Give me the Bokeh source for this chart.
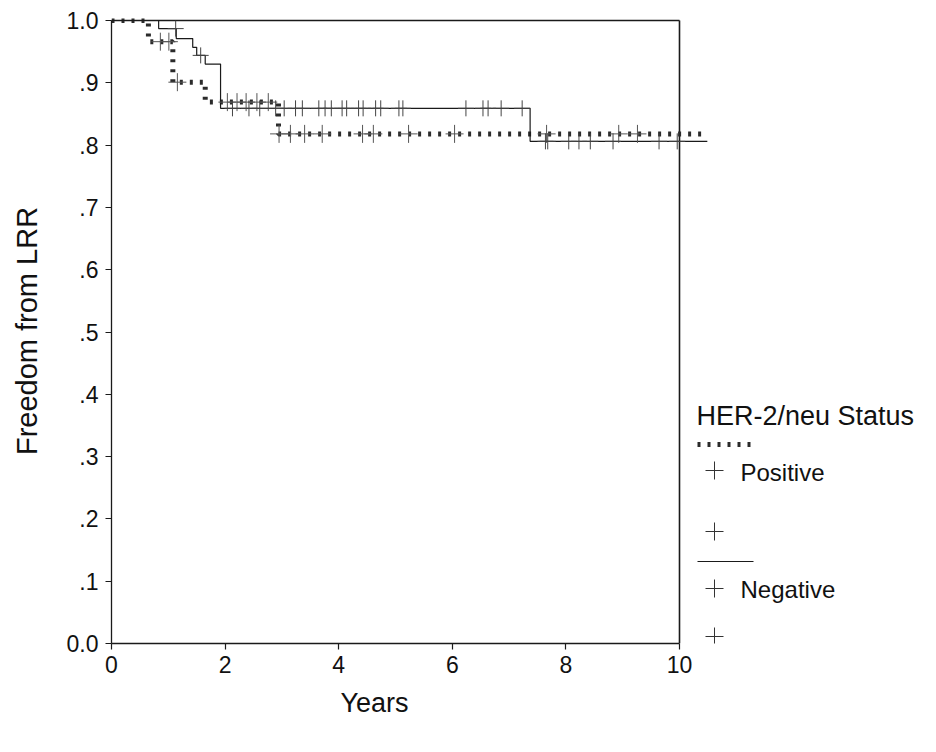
import numpy as np
from bokeh.plotting import figure
from bokeh.models import Range1d, FixedTicker, Label, Title
from bokeh.embed import file_html
from bokeh.resources import INLINE

# ---------------- data ----------------
pos_time = [0.0, 0.65, 1.08, 1.65, 2.94]
pos_surv = [1.0, 0.966, 0.901, 0.869, 0.818]
pos_end = 10.42
pos_censor = [0.86, 1.01, 1.16, 2.04, 2.21, 2.37, 2.56, 2.76, 2.95, 3.15,
              3.40, 3.71, 4.42, 4.61, 5.23, 6.04, 7.66, 8.93, 9.26]

neg_time = [0.0, 0.83, 1.14, 1.43, 1.50, 1.65, 1.92, 7.37]
neg_surv = [1.0, 0.987, 0.971, 0.957, 0.944, 0.930, 0.859, 0.806]
neg_end = 10.49
neg_censor = [1.13, 1.57, 2.13, 2.42, 2.61, 2.89, 3.04, 3.24, 3.36, 3.65,
              3.76, 3.87, 4.06, 4.14, 4.35, 4.43, 4.65, 4.74, 5.06, 5.13,
              6.24, 6.54, 6.63, 6.86, 7.23, 7.64, 7.68, 8.05, 8.23, 8.43,
              8.83, 9.64, 9.96]

x_ticks = [0, 2, 4, 6, 8, 10]
x_tick_labels = ["0", "2", "4", "6", "8", "10"]
y_ticks = [0.0, 0.1, 0.2, 0.3, 0.4, 0.5, 0.6, 0.7, 0.8, 0.9, 1.0]
y_tick_labels = ["0.0", ".1", ".2", ".3", ".4", ".5", ".6", ".7", ".8", ".9", "1.0"]

legend_title = "HER-2/neu Status"
legend_labels = ["Positive", "Negative"]
x_title = "Years"
y_title = "Freedom from LRR"

# ---------------- layout ----------------
FONT = "Liberation Sans"
W, H = 920, 736
PX_PER_X = 56.8      # pixels per year
PX_PER_Y = 623.0     # pixels per unit of survival
LEFT_PX, TOP_PX, ZERO_PX = 111, 18, 643


def dx(px):
    return (px - LEFT_PX) / PX_PER_X


def dy(py):
    return (ZERO_PX - py) / PX_PER_Y


def censor_y(times, surv, cens):
    idx = np.searchsorted(np.array(times), np.array(cens), side="right") - 1
    return list(np.array(surv)[idx])


p = figure(width=W, height=H,
           x_range=Range1d(0, (W - LEFT_PX) / PX_PER_X),
           y_range=Range1d(0, (ZERO_PX - TOP_PX) / PX_PER_Y),
           output_backend="svg", toolbar_location=None,
           min_border_left=LEFT_PX, min_border_right=0,
           min_border_top=TOP_PX, min_border_bottom=H - ZERO_PX)
p.outline_line_color = None
p.grid.visible = False
p.background_fill_color = "white"
p.border_fill_color = "white"

for ax in (p.xaxis[0], p.yaxis[0]):
    ax.major_tick_out = 6
    ax.major_tick_in = 0
    ax.minor_tick_out = 0
    ax.minor_tick_in = 0
    ax.axis_line_color = "#1a1a1a"
    ax.axis_line_width = 1.3
    ax.major_tick_line_color = "#1a1a1a"
    ax.major_tick_line_width = 1.2
    ax.major_label_text_font = FONT
    ax.major_label_text_font_size = "23px"
    ax.major_label_text_color = "#111111"

xa = p.xaxis[0]
xa.ticker = FixedTicker(ticks=x_ticks)
xa.bounds = (x_ticks[0], x_ticks[-1])
xa.major_label_overrides = dict(zip(x_ticks, x_tick_labels))
xa.major_label_standoff = 6

ya = p.yaxis[0]
ya.ticker = FixedTicker(ticks=y_ticks)
ya.bounds = (y_ticks[0], y_ticks[-1])
ya.major_label_overrides = dict(zip(y_ticks, y_tick_labels))
ya.major_label_standoff = 7
ya.axis_label = y_title
ya.axis_label_text_font = FONT
ya.axis_label_text_font_size = "29px"
ya.axis_label_text_font_style = "normal"
ya.axis_label_text_color = "#111111"
ya.axis_label_standoff = 21

# x title, placed under the x axis (left-aligned in the panel, shifted right)
p.add_layout(Title(text=x_title, align="left", offset=229, vertical_align="bottom",
                   standoff=20, text_font=FONT, text_font_size="27px",
                   text_font_style="normal", text_color="#111111"), "below")

# frame top and right edges
p.line([x_ticks[0], x_ticks[-1]], [y_ticks[-1], y_ticks[-1]], line_color="#1a1a1a", line_width=1.3)
p.line([x_ticks[-1], x_ticks[-1]], [y_ticks[0], y_ticks[-1]], line_color="#1a1a1a", line_width=1.6)

POS_STYLE = dict(line_color="#2b2b2b", line_width=5, line_dash="3 7")
NEG_STYLE = dict(line_color="#1a1a1a", line_width=1.2)

# curves
p.step(pos_time + [pos_end], pos_surv + [pos_surv[-1]], mode="after", **POS_STYLE)
p.step(neg_time + [neg_end], neg_surv + [neg_surv[-1]], mode="after", **NEG_STYLE)

# censor marks
p.scatter(pos_censor, censor_y(pos_time, pos_surv, pos_censor), marker="cross",
          size=18, line_color="#555555", line_width=1)
p.scatter(neg_censor, censor_y(neg_time, neg_surv, neg_censor), marker="cross",
          size=16, line_color="#444444", line_width=1)

# legend (drawn by hand, SPSS style)
p.add_layout(Label(x=dx(696), y=dy(415), text=legend_title, text_font=FONT,
                   text_font_size="27px", text_baseline="middle", text_color="#111111"))
p.line([dx(697), dx(752)], [dy(444), dy(444)], **POS_STYLE)
p.line([dx(697), dx(753)], [dy(561), dy(561)], **NEG_STYLE)
p.scatter([dx(714)] * 4, [dy(470), dy(531), dy(588), dy(636)], marker="cross",
          size=18, line_color="#333333", line_width=1)
for lab, py in zip(legend_labels, (472, 589)):
    p.add_layout(Label(x=dx(740), y=dy(py), text=lab, text_font=FONT,
                       text_font_size="24px", text_baseline="middle", text_color="#111111"))

open("out.html", "w").write(file_html(p, INLINE))
